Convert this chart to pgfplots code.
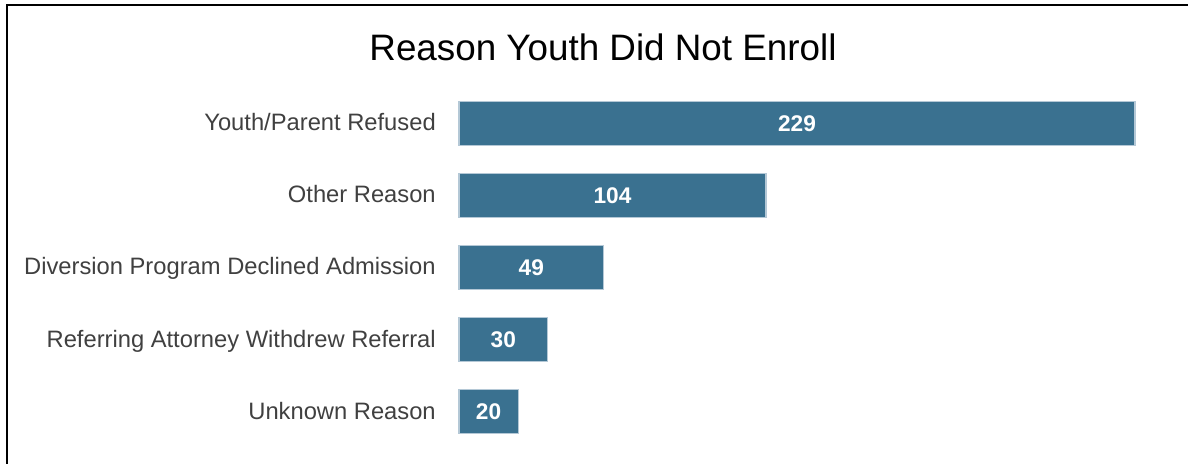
\documentclass[border=0pt]{standalone}
\usepackage{pgfplots}
\usepackage{pgfplotstable}
\pgfplotsset{compat=1.18}
\usepackage{fontspec}
\setmainfont{Liberation Sans}
\definecolor{barblue}{HTML}{3A7190}
\definecolor{baredge}{HTML}{B4C8D6}
\definecolor{labgray}{HTML}{404040}
\pgfplotstableread{
y v
0 229
1 104
2 49
3 30
4 20
}\datatable
\begin{document}
\begin{tikzpicture}
\path[use as bounding box] (0,0) rectangle (892.5pt,348pt);
\draw[line width=1.6pt, black] (5.25pt,0) -- (5.25pt,344.25pt) -- (891pt,344.25pt);
\node[anchor=base, inner sep=0pt, font=\fontsize{27.6}{32}\selectfont] at (452.25pt,302.25pt) {Reason Youth Did Not Enroll};
\begin{axis}[
  at={(344.25pt,12pt)}, anchor=south west,
  scale only axis, width=507pt, height=270.75pt,
  xmin=0, xmax=229, ymin=-0.5, ymax=4.5, y dir=reverse,
  axis line style={draw=none}, major tick length=0pt,
  xtick=\empty,
  ytick={0,1,2,3,4},
  yticklabels={Youth/Parent Refused, Other Reason, Diversion Program Declined Admission, Referring Attorney Withdrew Referral, Unknown Reason},
  yticklabel style={anchor=base east, inner sep=0pt, xshift=-17.25pt, yshift=-5.5pt, font=\fontsize{17.8}{20}\selectfont, text=labgray},
  /pgf/number format/assume math mode=true,
  clip=false,
]
\addplot[xbar, bar width=33pt, fill=barblue, draw=baredge, line width=0.8pt] table[x=v, y=y] {\datatable};
\addplot[draw=none, forget plot, nodes near coords, point meta=explicit,
  every node near coord/.append style={anchor=base, inner sep=0pt, yshift=-6pt, text=white, font=\bfseries\fontsize{17}{20}\selectfont}]
  table[x expr=\thisrow{v}/2, y=y, meta=v] {\datatable};
\end{axis}
\end{tikzpicture}
\end{document}
